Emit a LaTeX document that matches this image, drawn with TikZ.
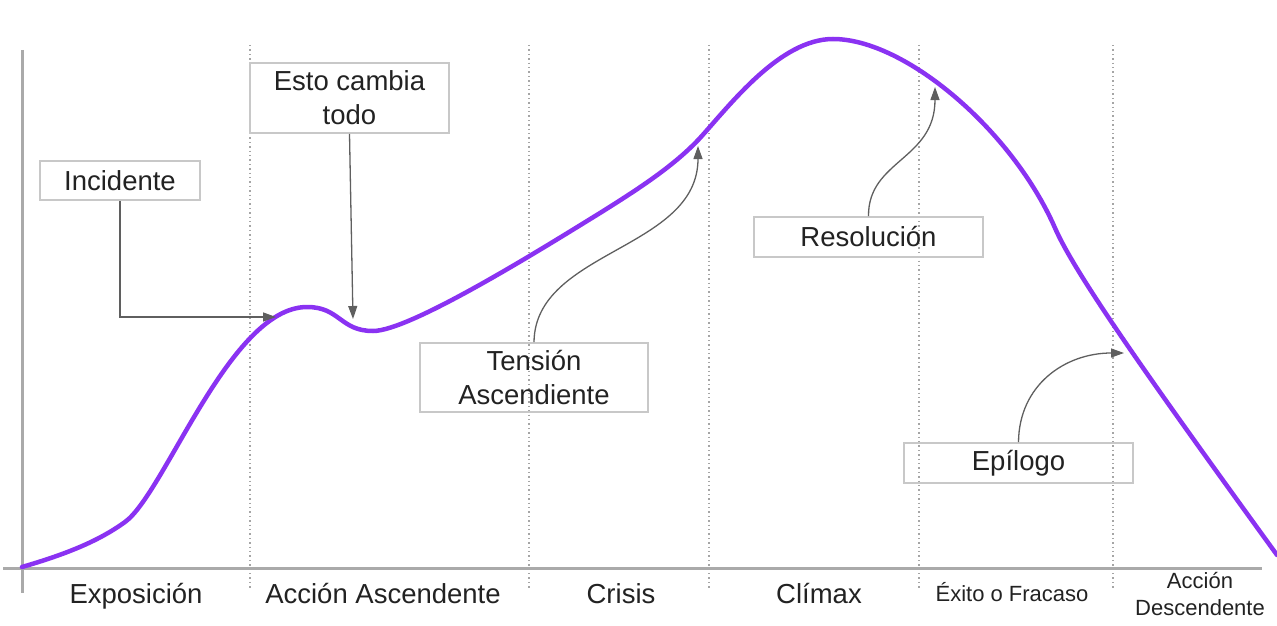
\documentclass[tikz,border=0pt]{standalone}
\usepackage{fontspec}
\setmainfont{Liberation Sans}
\usetikzlibrary{arrows.meta}
\definecolor{curvecol}{RGB}{138,50,242}
\definecolor{boxcol}{RGB}{200,200,200}
\definecolor{axiscol}{RGB}{170,170,170}
\definecolor{divcol}{RGB}{165,165,165}
\definecolor{arrcol}{RGB}{95,95,95}
\definecolor{txtcol}{RGB}{34,34,34}
\tikzset{
  labelbox/.style={draw=boxcol, line width=1.8pt, inner sep=0pt, text=txtcol,
    font=\fontsize{27.5}{34}\selectfont, align=center},
  divider/.style={draw=divcol, line width=1.4pt, dash pattern=on 1.4pt off 3pt},
  axisline/.style={draw=axiscol, line width=3pt},
  pointer/.style={draw=arrcol, line width=1.3pt, -{Triangle[length=13pt,width=9pt]}},
  phase/.style={text=txtcol, font=\fontsize{27.5}{34}\selectfont, inner sep=0pt, anchor=base},
  smallphase/.style={text=txtcol, font=\fontsize{22}{27}\selectfont, inner sep=0pt, anchor=base},
}
\begin{document}
\begin{tikzpicture}[x=1pt,y=-1pt]
\useasboundingbox (0,0) rectangle (1277,626);
% dividers
\foreach \xx in {250,529,709,919,1113}{
  \draw[divider] (\xx,45) -- (\xx,590);
}
% axes
\draw[axisline] (22,50) -- (22,593);
\draw[axisline] (3,568) -- (1262,568);
% curve
\draw[curvecol, line width=4.5pt, line cap=round]
  (22,567) .. controls (70,553) and (100,540) .. (125,522)
  .. controls (165,493) and (230,307) .. (307,307)
  .. controls (340,307) and (340,331) .. (373,331)
  .. controls (410,331) and (540,250) .. (600,213)
  .. controls (640,188) and (675,165) .. (700,138)
  .. controls (730,105) and (780,39) .. (833,39)
  .. controls (905,39) and (1012,130) .. (1055,228)
  .. controls (1075,274) and (1150,380) .. (1277,555);
% boxes
\node[labelbox, minimum width=160pt, minimum height=39pt] (inc) at (120,180.5) {Incidente};
\node[labelbox, minimum width=199pt, minimum height=70pt] (esto) at (349.5,98) {Esto cambia\\todo};
\node[labelbox, minimum width=228pt, minimum height=69pt] (tens) at (534,377.5) {Tensión\\Ascendiente};
\node[labelbox, minimum width=229pt, minimum height=40pt] (reso) at (868.5,237) {Resolución};
\node[labelbox, minimum width=229pt, minimum height=40pt] (epi) at (1018.5,463) {Epílogo};
% target points on the curve
\coordinate (pinc) at (276,317);
\coordinate (pesto) at (353,319);
\coordinate (ptens) at (698,146);
\coordinate (preso) at (935,87);
\coordinate (pepi) at (1124,353);
% pointers
\draw[pointer] (inc.south) |- (pinc);
\draw[pointer] (esto.south) -- (pesto);
\draw[pointer] (tens.north) .. controls (535,250) and (698,250) .. (ptens);
\draw[pointer] (reso.north) .. controls (868,160) and (935,160) .. (preso);
\draw[pointer] (epi.north) .. controls (1019,385) and (1065,353) .. (pepi);
% phase labels
\node[phase] (l1) at (136,603) {Exposición};
\node[phase] (l2) at (383,603) {Acción Ascendente};
\node[phase] (l3) at (621,603) {Crisis};
\node[phase] (l4) at (819,603) {Clímax};
\node[smallphase] (l5) at (1012,601) {Éxito o Fracaso};
\node[smallphase] (l6a) at (1200,588) {Acción};
\node[smallphase] (l6b) at (1200,615) {Descendente};
\end{tikzpicture}
\end{document}
